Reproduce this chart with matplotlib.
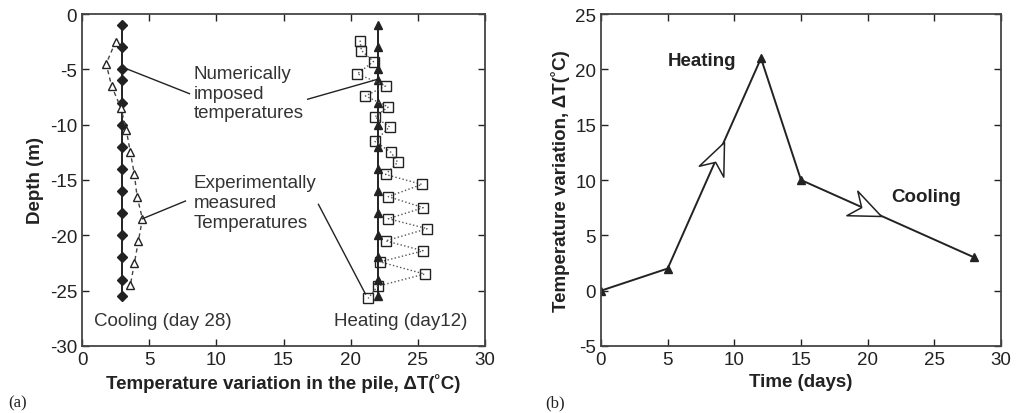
import numpy as np
import matplotlib.pyplot as plt
from matplotlib.path import Path
from matplotlib.markers import MarkerStyle
from matplotlib.transforms import Affine2D

plt.rcParams['font.family'] = ['Liberation Sans', 'DejaVu Sans']
plt.rcParams['font.size'] = 13.5
plt.rcParams['axes.unicode_minus'] = False

# --- (a) depth profiles ---
num_depth = [-1, -3, -5, -6, -8, -10, -12, -14, -16, -18, -20, -22, -24, -25.5]
num_cool = [3] * len(num_depth)
num_heat = [22] * len(num_depth)

exp_cool_depth = [-2.5, -4.5, -6.5, -8.5, -10.5, -12.5, -14.5, -16.5, -18.5, -20.5, -22.5, -24.5]
exp_cool = [2.5, 1.8, 2.2, 2.9, 3.3, 3.6, 3.9, 4.1, 4.5, 4.2, 3.9, 3.6]

exp_heat_depth = [-2.4, -3.3, -4.3, -5.4, -6.5, -7.4, -8.4, -9.3, -10.2, -11.5, -12.5, -13.4,
                  -14.5, -15.4, -16.5, -17.5, -18.5, -19.4, -20.5, -21.4, -22.4, -23.5, -24.6, -25.7]
exp_heat = [20.7, 20.8, 21.7, 20.5, 22.6, 21.1, 22.8, 21.8, 22.9, 21.8, 23.0, 23.5,
            22.6, 25.3, 22.8, 25.4, 22.8, 25.7, 22.6, 25.4, 22.2, 25.5, 22.0, 21.3]

# --- (b) temperature history ---
days = [0, 5, 12, 15, 28]
dT = [0, 2, 21, 10, 3]

ink = '#222222'
fig = plt.figure(figsize=(10.16, 4.14), dpi=100)
ax1 = fig.add_axes([82 / 1016, 67 / 414, 403 / 1016, 332 / 414])
ax2 = fig.add_axes([601 / 1016, 67 / 414, 400 / 1016, 332 / 414])

for ax in (ax1, ax2):
    ax.tick_params(direction='in', top=True, right=True, length=5, width=1, colors=ink)
    for s in ax.spines.values():
        s.set_color('#444444')
        s.set_linewidth(1.3)

# panel (a)
ax1.plot(num_cool, num_depth, '-D', color=ink, lw=1.4, ms=5)
ax1.plot(num_heat, num_depth, '-^', color=ink, lw=1.4, ms=5.5)
ax1.plot(exp_cool, exp_cool_depth, '--^', color='#444444', lw=1, ms=6,
         mfc='white', mec=ink, dashes=(3, 2.5))
ax1.plot(exp_heat, exp_heat_depth, ':s', color='#555555', lw=1, ms=7.5,
         mfc='none', mec=ink)
ax1.set_xlim(0, 30)
ax1.set_ylim(-30, 0)
ax1.set_xticks(range(0, 31, 5))
ax1.set_yticks(range(-30, 1, 5))
ax1.set_xlabel('Temperature variation in the pile, ΔT(˚C)', fontweight='bold', color=ink)
ax1.set_ylabel('Depth (m)', fontweight='bold', color=ink)

ax1.text(8.3, -4.6, 'Numerically\nimposed\ntemperatures', va='top', ha='left',
         color='#333333', linespacing=1.2)
ax1.text(8.3, -14.5, 'Experimentally\nmeasured\nTemperatures', va='top', ha='left',
         color='#333333', linespacing=1.2)
ax1.text(0.9, -27.7, 'Cooling (day 28)', va='center', ha='left', color='#333333')
ax1.text(28.7, -27.7, 'Heating (day12)', va='center', ha='right', color='#333333')

lead = dict(color=ink, lw=1)
ax1.plot([3, 8.0], [-4.8, -7.2], **lead)
ax1.plot([16.8, 22.0], [-7.7, -5.9], **lead)
ax1.plot([4.5, 7.7], [-18.5, -16.9], **lead)
ax1.plot([17.6, 21.1], [-17.2, -25.3], **lead)

# panel (b)
ax2.plot(days, dT, '-^', color=ink, lw=1.4, ms=5.5)
ax2.set_xlim(0, 30)
ax2.set_ylim(-5, 25)
ax2.set_xticks(range(0, 31, 5))
ax2.set_yticks(range(-5, 26, 5))
ax2.set_xlabel('Time (days)', fontweight='bold', color=ink)
ax2.set_ylabel('Temperature variation, ΔT(˚C)', fontweight='bold', color=ink)
ax2.text(5.0, 20.8, 'Heating', fontweight='bold', va='center', ha='left', color=ink)
ax2.text(21.8, 8.5, 'Cooling', fontweight='bold', va='center', ha='left', color=ink)

# hollow notched arrowheads along the heating and cooling branches
head = Path([(0, 0), (-1, 0.42), (-0.68, 0), (-1, -0.42), (0, 0)],
            [Path.MOVETO, Path.LINETO, Path.LINETO, Path.LINETO, Path.CLOSEPOLY])
for i, frac in [(1, 0.6), (3, 0.46)]:
    p0 = np.array([days[i], dT[i]], dtype=float)
    p1 = np.array([days[i + 1], dT[i + 1]], dtype=float)
    tip = p0 + frac * (p1 - p0)
    d0, d1 = ax2.transData.transform([p0, p1])
    ang = np.degrees(np.arctan2(d1[1] - d0[1], d1[0] - d0[0]))
    m = MarkerStyle(head, transform=Affine2D().rotate_deg(ang))
    ax2.plot([tip[0]], [tip[1]], marker=m, ms=46, mfc='white', mec=ink, mew=1.1,
             ls='none', zorder=5)

fig.text(8 / 1016, 11 / 414, '(a)', family=['Liberation Serif', 'DejaVu Serif'],
         fontsize=12, va='center', color=ink)
fig.text(545 / 1016, 11 / 414, '(b)', family=['Liberation Serif', 'DejaVu Serif'],
         fontsize=12, va='center', color=ink)

fig.savefig('out.png', dpi=100)
